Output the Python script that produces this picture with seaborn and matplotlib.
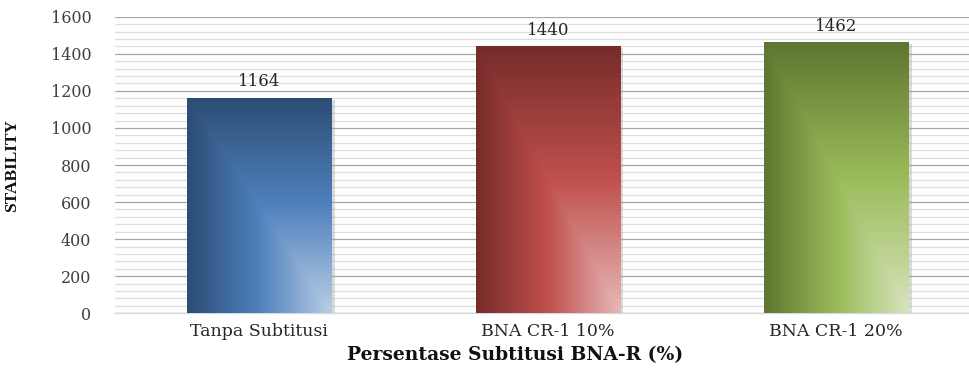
import numpy as np
import pandas as pd
import matplotlib
matplotlib.use("Agg")
import matplotlib.pyplot as plt
from matplotlib.colors import LinearSegmentedColormap
from matplotlib.ticker import MultipleLocator
import matplotlib.patheffects as pe
import seaborn as sns

# Stability per substitution level
categories = ["Tanpa Subtitusi", "BNA CR-1 10%", "BNA CR-1 20%"]
stability = [1164, 1440, 1462]
y_ticks = [0, 200, 400, 600, 800, 1000, 1200, 1400, 1600]

# (dark, mid, light) stops for each bar's gradient
gradient_stops = [
    ("#2c4d75", "#4f81bd", "#b9cde5"),
    ("#772c2a", "#c0504d", "#e6b9b8"),
    ("#5f7530", "#9bbb59", "#d7e4bd"),
]

sns.set_theme(style="white")
plt.rcParams["font.family"] = ["DejaVu Serif", "Liberation Serif"]

W, H = 969, 369
fig = plt.figure(figsize=(W / 100, H / 100), dpi=100)
ax_left, ax_right = 115 / W, 1.0
ax_bottom, ax_top = (H - 313.3) / H, (H - 16.7) / H
ax = fig.add_axes([ax_left, ax_bottom, ax_right - ax_left, ax_top - ax_bottom])

df = pd.DataFrame({"cat": categories, "val": stability})
sns.barplot(data=df, x="cat", y="val", hue="cat", palette=[s[1] for s in gradient_stops],
            width=0.5, legend=False, ax=ax, zorder=3)

# Gridlines: major every 200, minor every 40
ax.set_yticks(y_ticks)
ax.yaxis.set_minor_locator(MultipleLocator(40))
ax.grid(axis="y", which="major", color="#a6a6a6", lw=0.9, zorder=0)
ax.grid(axis="y", which="minor", color="#dedede", lw=0.9, zorder=0)
ax.grid(axis="x", visible=False)
ax.set_axisbelow(True)

for s in ["left", "right", "top"]:
    ax.spines[s].set_visible(False)
ax.spines["bottom"].set_color("#d5dbe5")
ax.spines["bottom"].set_linewidth(1.0)

ax.tick_params(axis="y", which="both", length=0, pad=17, labelsize=11.5, labelcolor="#404040")
ax.tick_params(axis="x", which="both", length=0, pad=7, labelsize=12.5, labelcolor="#262626")

# Rectangular gradient fill: dark along left/top, light toward bottom-right corner
n = 200
xf = np.linspace(0, 1, n)[None, :]
yf = np.linspace(0, 1, n)[:, None]
t = np.maximum(1 - xf, 1 - yf)

for patch, stops in zip(ax.patches, gradient_stops):
    cmap = LinearSegmentedColormap.from_list("g", [(0, stops[2]), (0.5, stops[1]), (1, stops[0])])
    x0, y0 = patch.get_x(), patch.get_y()
    w, h = patch.get_width(), patch.get_height()
    patch.set_edgecolor("none")
    patch.set_path_effects([pe.SimplePatchShadow(offset=(2.5, -1.5), shadow_rgbFace="#9a9a9a", alpha=0.35),
                            pe.Normal()])
    im = ax.imshow(t, cmap=cmap, vmin=0, vmax=1, aspect="auto", origin="upper",
                   extent=[x0, x0 + w, y0, y0 + h], zorder=4, interpolation="bilinear")
    im.set_clip_path(patch)
    ax.text(x0 + w / 2, y0 + h + 40, f"{int(h)}", ha="center", va="bottom",
            fontsize=12, color="#262626", zorder=5)

ax.set_xlim(-0.5, 2.46)
ax.set_ylim(0, 1600)

ax.set_xlabel("Persentase Subtitusi BNA-R (%)", fontsize=13.5, fontweight="bold", color="#111111")
ax.xaxis.set_label_coords((515 - 115) / (W - 115), -0.112)
ax.set_ylabel("STABILITY", fontsize=12.5, fontweight="bold", color="#111111",
              fontfamily="Liberation Serif")
ax.yaxis.set_label_coords(-(115 - 20) / (W - 115), (313.3 - 166) / 296.6)

fig.savefig("out.png", dpi=100)
